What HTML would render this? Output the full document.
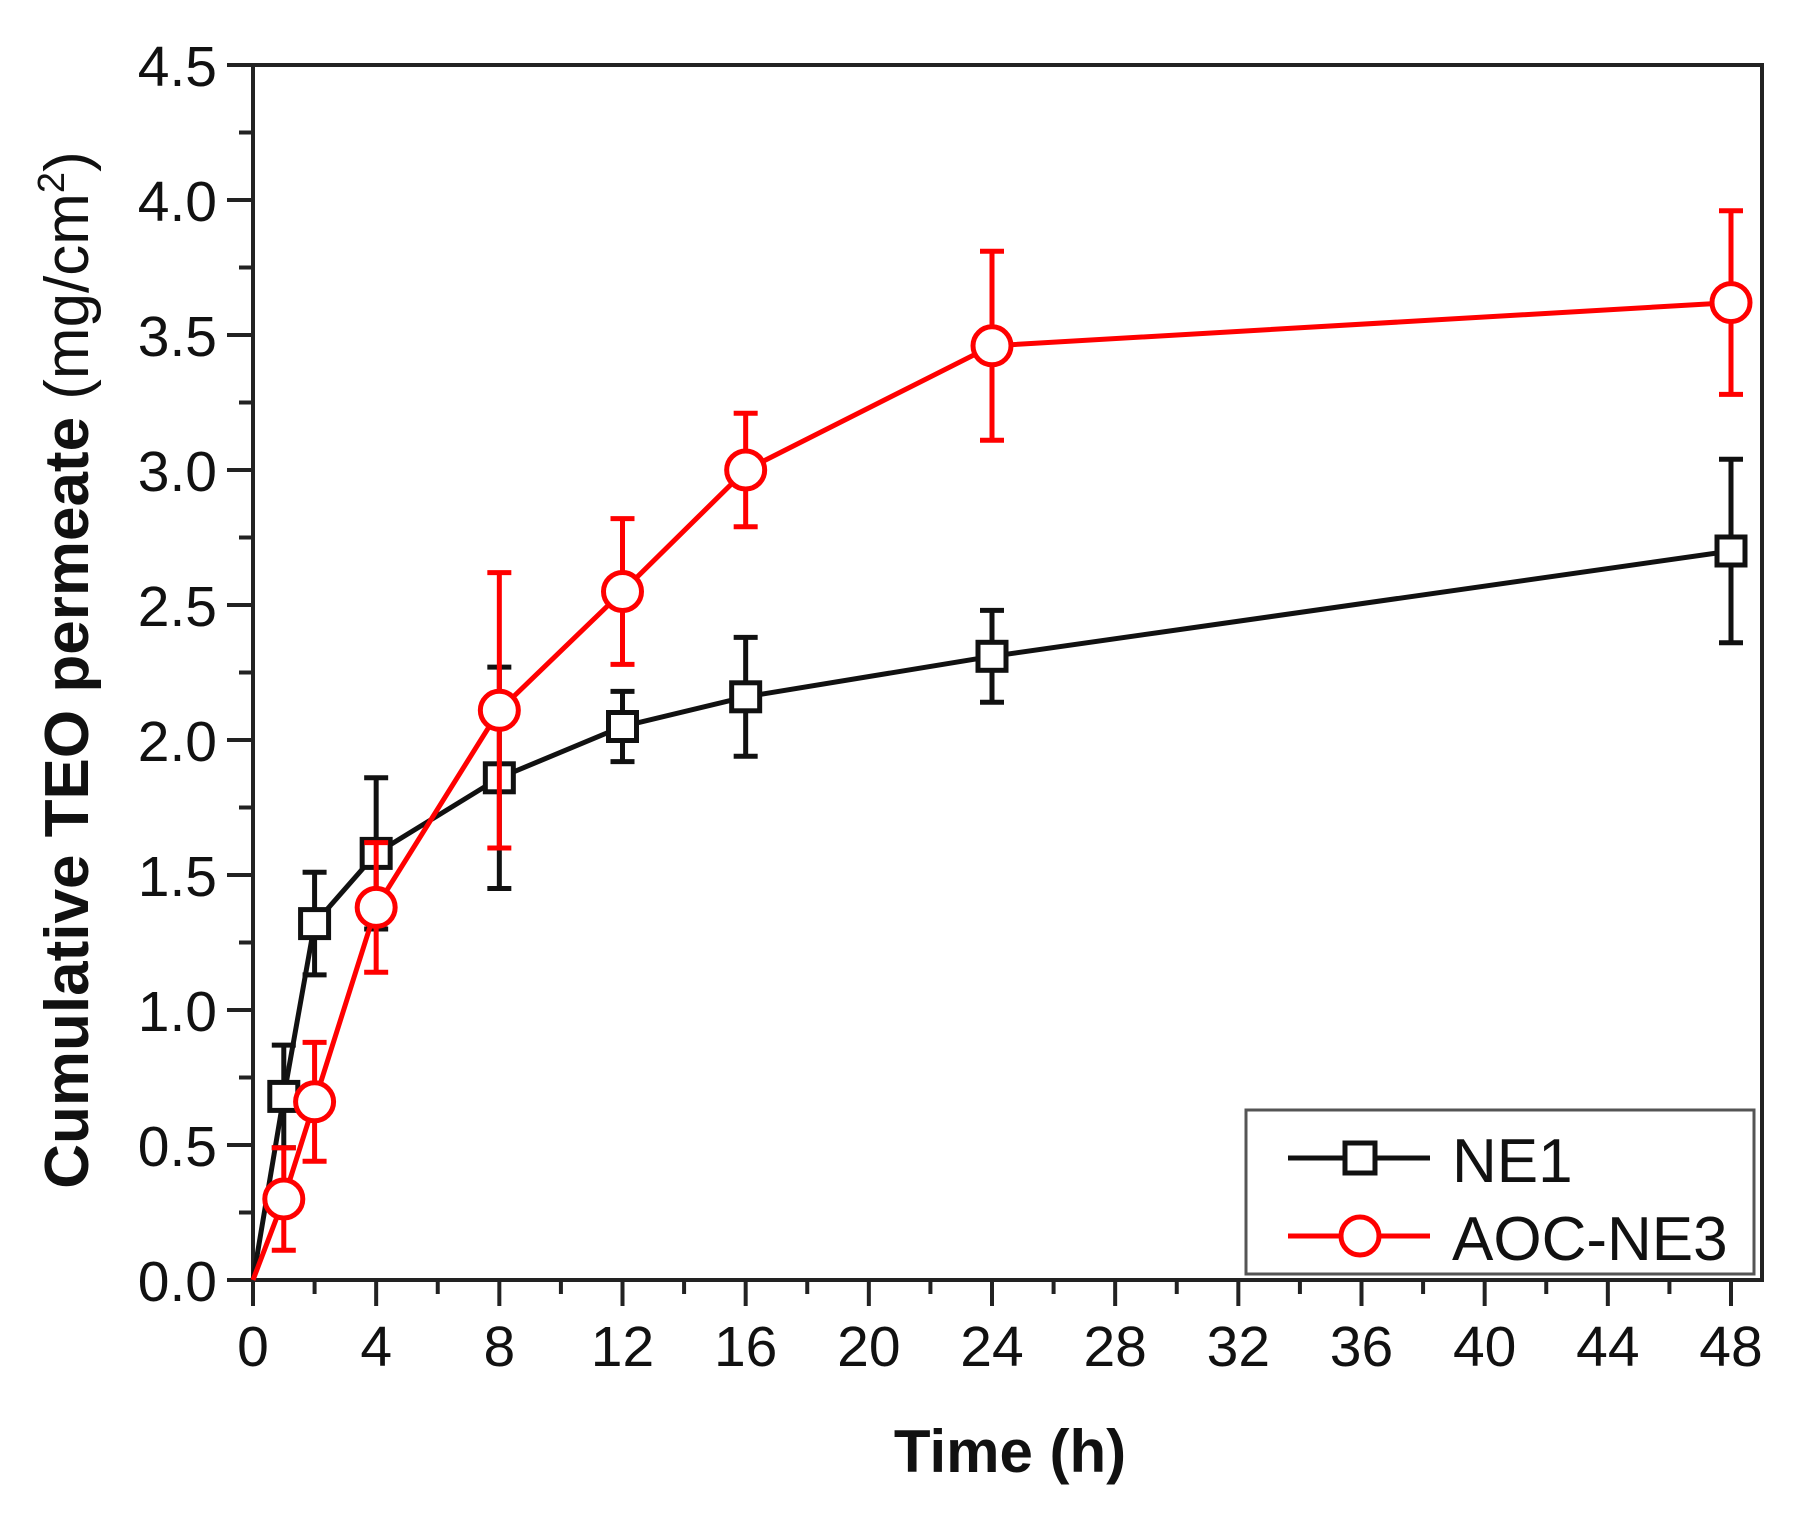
<!DOCTYPE html>
<html><head><meta charset="utf-8"><style>
html,body{margin:0;padding:0;background:#fff;}
svg{display:block;font-family:"Liberation Sans",Arial,sans-serif;}
</style></head><body>
<svg id="chart" width="1809" height="1515" viewBox="0 0 1809 1515">
<rect x="0" y="0" width="1809" height="1515" fill="#fff"/>
<g id="axes"></g>
<g id="series"></g>
<text x="1010" y="1472" font-size="60" font-weight="bold" text-anchor="middle" fill="#111">Time (h)</text>
<text transform="translate(88,670) rotate(-90)" font-size="62" text-anchor="middle" fill="#111"><tspan font-weight="bold">Cumulative TEO permeate</tspan> (mg/cm<tspan font-size="38" dy="-24">2</tspan><tspan dy="24">)</tspan></text>
<g>
<rect x="1246" y="1110" width="508" height="164" fill="#fff" stroke="#555" stroke-width="3"/>
<line x1="1288" y1="1158" x2="1430" y2="1158" stroke="#111" stroke-width="5"/>
<rect x="1345" y="1143" width="30" height="30" fill="#fff" stroke="#111" stroke-width="5"/>
<text x="1452" y="1182" font-size="62" fill="#111">NE1</text>
<line x1="1288" y1="1236" x2="1430" y2="1236" stroke="#f00" stroke-width="5"/>
<circle cx="1360" cy="1236" r="19" fill="#fff" stroke="#f00" stroke-width="5"/>
<text x="1452" y="1260" font-size="62" fill="#111">AOC-NE3</text>
</g>
</svg>
<script>
const times=[0,1,2,4,8,12,16,24,48];
const ne1=[0,0.68,1.32,1.58,1.86,2.05,2.16,2.31,2.70];
const ne1Err=[0,0.19,0.19,0.28,0.41,0.13,0.22,0.17,0.34];
const aoc=[0,0.30,0.66,1.38,2.11,2.55,3.00,3.46,3.62];
const aocErr=[0,0.19,0.22,0.24,0.51,0.27,0.21,0.35,0.34];
const xTicks=[0,4,8,12,16,20,24,28,32,36,40,44,48];
const yTicks=["0.0","0.5","1.0","1.5","2.0","2.5","3.0","3.5","4.0","4.5"];

const L=253,R=1762,T=65,B=1280;
const X0=253,X1=1731;
function xs(v){return X0+(v/48)*(X1-X0);}
function ys(v){return B-(v/4.5)*(B-T);}
const NS="http://www.w3.org/2000/svg";
function mk(tag,attrs,parent){const e=document.createElementNS(NS,tag);for(const k in attrs)e.setAttribute(k,attrs[k]);parent.appendChild(e);return e;}
const ax=document.getElementById('axes');
const frame=mk('rect',{x:L,y:T,width:R-L,height:B-T,fill:'none',stroke:'#222','stroke-width':4},ax);


xTicks.forEach((t,i)=>{
  const x=xs(t);
  mk('line',{x1:x,y1:B,x2:x,y2:B+26,stroke:'#222','stroke-width':4},ax);
  if(i<xTicks.length-1){const xm=xs(t+2);mk('line',{x1:xm,y1:B,x2:xm,y2:B+14,stroke:'#222','stroke-width':4},ax);}
  const tx=mk('text',{x:x,y:B+86,'font-size':57,'text-anchor':'middle',fill:'#111'},ax);
  tx.textContent=t;
  
  
});
yTicks.forEach((t,i)=>{
  const v=parseFloat(t);const y=ys(v);
  mk('line',{x1:L-26,y1:y,x2:L,y2:y,stroke:'#222','stroke-width':4},ax);
  if(i<yTicks.length-1){const ym=ys(v+0.25);mk('line',{x1:L-14,y1:ym,x2:L,y2:ym,stroke:'#222','stroke-width':4},ax);}
  const tx=mk('text',{x:L-36,y:y+21,'font-size':57,'text-anchor':'end',fill:'#111'},ax);
  tx.textContent=t;
  
  
});
const sg=document.getElementById('series');
function draw(vals,errs,color,shape,name){
  const g=mk('g',{},sg);
  
  
  vals.forEach((v,i)=>{
    if(errs[i]>0){const x=xs(times[i]);
      mk('line',{x1:x,y1:ys(v-errs[i]),x2:x,y2:ys(v+errs[i]),stroke:color,'stroke-width':5},g);
      mk('line',{x1:x-12,y1:ys(v-errs[i]),x2:x+12,y2:ys(v-errs[i]),stroke:color,'stroke-width':5},g);
      mk('line',{x1:x-12,y1:ys(v+errs[i]),x2:x+12,y2:ys(v+errs[i]),stroke:color,'stroke-width':5},g);}
  });
  mk('polyline',{points:vals.map((v,i)=>xs(times[i])+','+ys(v)).join(' '),fill:'none',stroke:color,'stroke-width':5},g);
  vals.forEach((v,i)=>{
    if(times[i]===0)return;
    const x=xs(times[i]),y=ys(v);let m;
    if(shape==='sq')m=mk('rect',{x:x-14,y:y-14,width:28,height:28,fill:'#fff',stroke:color,'stroke-width':5},g);
    else m=mk('circle',{cx:x,cy:y,r:19,fill:'#fff',stroke:color,'stroke-width':5},g);
    
    
  });
}
draw(ne1,ne1Err,'#111','sq','series-ne1');
draw(aoc,aocErr,'#f00','ci','series-aoc-ne3');
</script>
</body></html>
